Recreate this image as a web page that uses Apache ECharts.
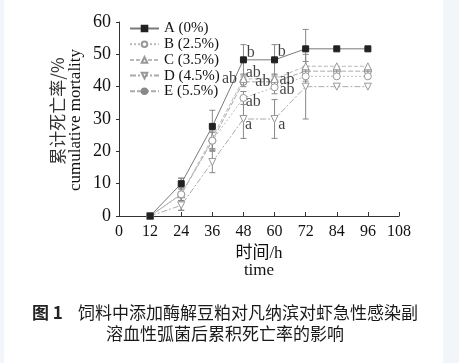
<!DOCTYPE html>
<html><head><meta charset="utf-8">
<script src="https://cdn.jsdelivr.net/npm/echarts@6/dist/echarts.min.js"></script>
<style>html,body{margin:0;padding:0;background:#fff}#c{width:459px;height:363px}</style>
</head><body><div id="c"></div>
<script>
var hours = [12, 24, 36, 48, 60, 72, 84, 96];
var xTicks = [0, 12, 24, 36, 48, 60, 72, 84, 96, 108];
var yTicks = [0, 10, 20, 30, 40, 50, 60];
var names = ['A (0%)', 'B (2.5%)', 'C (3.5%)', 'D (4.5%)', 'E (5.5%)'];
var valA = [0, 10, 27.7, 48.3, 48.3, 51.7, 51.7, 51.7];
var valB = [0, 6.7, 23.3, 36.5, 39.8, 43.2, 43.2, 43.2];
var valC = [0, 6.7, 24.2, 42.4, 42.4, 46.3, 46.3, 46.3];
var valD = [0, 3.3, 16.7, 30.0, 30.0, 40.0, 40.0, 40.0];
var valE = [0, 6.7, 23.3, 41.5, 41.5, 44.8, 44.8, 44.8];
var errA = [0, 1.7, 5.0, 4.7, 4.7, 6.0, 0, 0];
var errB = [0, 5.0, 3.0, 2.0, 2.0, 1.5, 0, 0];
var errC = [0, 2.0, 3.5, 1.5, 1.5, 1.5, 0, 0];
var errD = [0, 1.5, 3.3, 6.0, 6.0, 10.0, 0, 0];
var errE = [0, 2.0, 2.5, 1.5, 1.5, 1.5, 0, 0];
var letters = [
  [50.8, 50.4, 'b'], [62.8, 50.8, 'b'],
  [42.6, 42.4, 'ab'], [51.8, 44.3, 'ab'], [55.5, 41.4, 'ab'],
  [64.8, 42.1, 'ab'], [64.8, 39.0, 'ab'], [51.8, 35.4, 'ab'],
  [50.0, 28.1, 'a'], [62.8, 28.1, 'a']
];

var serif = '"Liberation Serif","Times New Roman",serif';
var cjk = '"Liberation Serif","Noto Sans CJK SC",serif';
var symE = 'path://M0,-10A10,10,0,1,1,0,10A10,10,0,1,1,0,-10ZM0,-10L0,10M-10,0L10,0';

function pairs(v){ return hours.map(function(h,i){ return [h, v[i]]; }); }
function errData(v, e){ return hours.map(function(h,i){ return [h, v[i]-e[i], v[i]+e[i]]; }).filter(function(d){ return d[2]>d[1]; }); }

var styles = [
  {color:'#7a7a7a', type:'solid', sym:'rect', size:6, fill:'#222', border:'#222'},
  {color:'#bbb', type:[2,2], sym:'circle', size:7, fill:'#fff', border:'#999'},
  {color:'#bbb', type:[4,2], sym:'triangle', size:7, fill:'#fff', border:'#999'},
  {color:'#aaa', type:[6,2,2,2], sym:'path://M-10,-8L10,-8L0,10Z', size:7, fill:'#fff', border:'#999'},
  {color:'#aaa', type:[5,2], sym:symE, size:7, fill:'#fff', border:'#888'}
];
var vals = [valA, valB, valC, valD, valE];
var errs = [errA, errB, errC, errD, errE];

var series = [];
errs.forEach(function(e, k){
  series.push({
    type:'custom', silent:true, z:1,
    data: errData(vals[k], e),
    renderItem: function(params, api){
      var x = api.value(0);
      var lo = api.coord([x, api.value(1)]);
      var hi = api.coord([x, api.value(2)]);
      var w = 3, st = {stroke:'#888', lineWidth:1};
      return {type:'group', children:[
        {type:'line', shape:{x1:lo[0],y1:lo[1],x2:hi[0],y2:hi[1]}, style:st},
        {type:'line', shape:{x1:lo[0]-w,y1:lo[1],x2:lo[0]+w,y2:lo[1]}, style:st},
        {type:'line', shape:{x1:hi[0]-w,y1:hi[1],x2:hi[0]+w,y2:hi[1]}, style:st}
      ]};
    }
  });
});
vals.forEach(function(v, k){
  var s = styles[k];
  series.push({
    name: names[k], type:'line', data: pairs(v), z: 8 - k,
    symbol: s.sym, symbolSize: s.size, showSymbol:true,
    lineStyle:{color:s.color, width:1, type:s.type},
    itemStyle:{color:s.fill, borderColor:s.border, borderWidth:1},
    emphasis:{disabled:true}
  });
});
series.push({
  type:'scatter', symbolSize:0, silent:true, data: letters, z:10,
  label:{show:true, position:'inside', formatter:function(p){return p.value[2];},
    fontFamily:serif, fontSize:16, color:'#111'}
});

var chart = echarts.init(document.getElementById('c'));
chart.setOption({
  animation:false,
  backgroundColor:'#fff',
  grid:{left:119, right:60, top:22, bottom:147},
  legend:{
    orient:'vertical', left:129, top:21, itemWidth:29, itemHeight:7, itemGap:0.7,
    padding:0,
    data: names, textStyle:{fontFamily:serif, fontSize:15, color:'#111', lineHeight:15},
    selectedMode:false
  },
  xAxis:{
    type:'value', min:0, max:108, interval:12,
    name:'时间/h\ntime', nameLocation:'middle', nameGap:28,
    nameTextStyle:{fontFamily:cjk, fontSize:17, color:'#111', lineHeight:17, verticalAlign:'top'},
    axisLine:{lineStyle:{color:'#333', width:1}},
    axisTick:{inside:true, length:4, lineStyle:{color:'#333'}},
    axisLabel:{fontFamily:serif, fontSize:16, color:'#111', margin:8,
      formatter:function(v){ return xTicks.indexOf(v) >= 0 ? String(v) : ''; }},
    splitLine:{show:false}
  },
  yAxis:{
    type:'value', min:0, max:60, interval:10,
    axisLine:{show:true, lineStyle:{color:'#333', width:1}},
    axisTick:{show:true, inside:false, length:3, lineStyle:{color:'#333'}},
    axisLabel:{fontFamily:serif, fontSize:18, color:'#111', margin:8,
      formatter:function(v){ return yTicks.indexOf(v) >= 0 ? String(v) : ''; }},
    splitLine:{show:false}
  },
  graphic:[
    {type:'rect', shape:{x:443, y:0, width:16, height:363}, style:{fill:'#f2f5f9'}, silent:true},
    {type:'rect', shape:{x:0, y:0, width:4, height:363}, style:{fill:'#f2f5f9'}, silent:true},
    {type:'text', x:58, y:111, rotation:Math.PI/2, style:{text:'累计死亡率/%', font:'17px "Noto Sans CJK SC"', fill:'#333', align:'center', verticalAlign:'middle'}},
    {type:'text', x:76, y:120, rotation:Math.PI/2, style:{text:'cumulative mortality', font:'17px "Liberation Serif"', fill:'#111', align:'center', verticalAlign:'middle'}},
    {type:'text', x:32, y:313, style:{text:'图 1', font:'bold 17px "Noto Sans CJK SC"', fill:'#222', align:'left', verticalAlign:'middle'}},
    {type:'text', x:78, y:313, style:{text:'饲料中添加酶解豆粕对凡纳滨对虾急性感染副', font:'17px "Noto Sans CJK SC"', fill:'#1a1a1a', align:'left', verticalAlign:'middle'}},
    {type:'text', x:225, y:334, style:{text:'溶血性弧菌后累积死亡率的影响', font:'17px "Noto Sans CJK SC"', fill:'#1a1a1a', align:'center', verticalAlign:'middle'}}
  ],
  series: series
});
</script></body></html>
